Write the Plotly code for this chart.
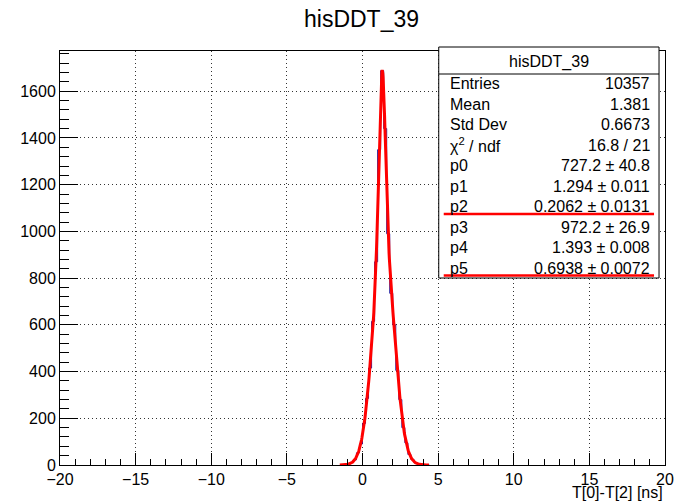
import numpy as np
import plotly.graph_objects as go

# ---------------- data ----------------
title = "hisDDT_39"
x_title = "T[0]-T[2] [ns]"
bin_lo, bin_hi, bin_width = -20.0, 20.0, 0.2
bin_centers = [-1.3, -1.1, -0.9, -0.7, -0.5, -0.3, -0.1, 0.1, 0.3, 0.5,
               0.7, 0.9, 1.1, 1.3, 1.5, 1.7, 1.9, 2.1, 2.3, 2.5,
               2.7, 2.9, 3.1, 3.3, 3.5, 3.7, 3.9, 4.1, 4.3]
bin_counts = [1, 2, 5, 11, 22, 52, 90, 178, 285, 415,
              615, 870, 1350, 1688, 1440, 990, 735, 600, 405, 280,
              160, 95, 45, 24, 10, 5, 3, 2, 1]
# double-gaussian fit parameters p0..p5
fit_params = [727.2, 1.294, 0.2062, 972.2, 1.393, 0.6938]
fit_range = [-1.5, 4.4]
stats_title = "hisDDT_39"
stats_labels = ["Entries", "Mean", "Std Dev", "χ<sup>2</sup> / ndf",
                "p0", "p1", "p2", "p3", "p4", "p5"]
stats_values = ["10357", "1.381", "0.6673", "16.8 / 21",
                "727.2 ± 40.8", "1.294 ± 0.011", "0.2062 ± 0.0131",
                "972.2 ± 26.9", "1.393 ± 0.008", "0.6938 ± 0.0072"]
underlined_rows = ["p2", "p5"]
x_ticks = [-20, -15, -10, -5, 0, 5, 10, 15, 20]
y_ticks = [0, 200, 400, 600, 800, 1000, 1200, 1400, 1600]

# ---------------- layout geometry (pixels) ----------------
W, H = 686, 502
FL, FR, FT, FB = 60, 667, 51, 465   # frame edges
FONT = "Liberation Sans, Arial, Helvetica, sans-serif"

def px(x):
    return (x - FL) / (FR - FL)

def py(y):
    return (FB - y) / (FB - FT)

# histogram steps (only over the populated region so the zero baseline stays black)
c_lo = min(bin_centers) - bin_width / 2
c_hi = max(bin_centers) + bin_width / 2
nb = int(round((c_hi - c_lo) / bin_width))
edges = c_lo + bin_width * np.arange(nb + 1)
counts = np.zeros(nb)
for c, v in zip(bin_centers, bin_counts):
    counts[int(np.floor((c - c_lo) / bin_width + 1e-6))] = v
hx = np.concatenate([[edges[0]], np.repeat(edges, 2)[1:-1], [edges[-1]]])
hy = np.concatenate([[0], np.repeat(counts, 2), [0]])

# fit curve
p0, p1, p2, p3, p4, p5 = fit_params
fx = np.linspace(fit_range[0], fit_range[1], 300)
fy = p0 * np.exp(-0.5 * ((fx - p1) / p2) ** 2) + p3 * np.exp(-0.5 * ((fx - p4) / p5) ** 2)

ymax = 1.05 * max(bin_counts)

fig = go.Figure()
fig.add_trace(go.Scatter(x=hx, y=hy, mode="lines",
                         line=dict(color="#1a1aa0", width=1), hoverinfo="skip"))
fig.add_trace(go.Scatter(x=fx, y=fy, mode="lines",
                         line=dict(color="#ff0000", width=3), hoverinfo="skip"))

fig.update_layout(
    width=W, height=H,
    margin=dict(l=FL, r=W - FR, t=FT, b=H - FB),
    paper_bgcolor="white", plot_bgcolor="white",
    showlegend=False,
    font=dict(family=FONT, size=16, color="black"),
)
fig.update_xaxes(
    range=[bin_lo, bin_hi], tickvals=x_ticks,
    showline=True, linecolor="black", linewidth=1, mirror=True,
    ticks="inside", ticklen=12, tickcolor="black", tickwidth=1,
    minor=dict(ticks="inside", dtick=1, ticklen=6, tickcolor="black", showgrid=False),
    showgrid=True, gridcolor="#333", griddash="1px,3px", gridwidth=1,
    zeroline=False, tickfont=dict(size=16, family=FONT),
)
fig.update_yaxes(
    range=[0, ymax], tickvals=y_ticks,
    showline=True, linecolor="black", linewidth=1, mirror=True,
    ticks="inside", ticklen=18, tickcolor="black", tickwidth=1,
    minor=dict(ticks="inside", dtick=40, ticklen=9, tickcolor="black", showgrid=False),
    showgrid=True, gridcolor="#333", griddash="1px,3px", gridwidth=1,
    zeroline=False, tickfont=dict(size=16, family=FONT),
)

shapes = []
annotations = []
# title
annotations.append(dict(x=px(362), y=py(19), xref="paper", yref="paper",
                        text=title, showarrow=False, xanchor="center", yanchor="middle",
                        font=dict(size=23, family=FONT)))
# x-axis title
annotations.append(dict(x=px(667), y=py(492), xref="paper", yref="paper",
                        text=x_title, showarrow=False, xanchor="right", yanchor="middle",
                        font=dict(size=16, family=FONT)))

# stats box
BL, BR, BT, BB = 440, 661, 47, 278
shapes.append(dict(type="rect", xref="paper", yref="paper",
                   x0=px(BL), x1=px(BR), y0=py(BB), y1=py(BT),
                   fillcolor="white", line=dict(color="black", width=1), layer="above"))
shapes.append(dict(type="line", xref="paper", yref="paper",
                   x0=px(BL), x1=px(BR), y0=py(74), y1=py(74),
                   line=dict(color="black", width=1), layer="above"))
annotations.append(dict(x=px((BL + BR) / 2), y=py(61.5), xref="paper", yref="paper",
                        text=stats_title, showarrow=False, xanchor="center", yanchor="middle",
                        font=dict(size=16, family=FONT)))
row0, drow = 83.5, 20.5
for i, (lab, val) in enumerate(zip(stats_labels, stats_values)):
    yy = row0 + i * drow
    annotations.append(dict(x=px(449), y=py(yy), xref="paper", yref="paper",
                            text=lab, showarrow=False, xanchor="left", yanchor="middle",
                            font=dict(size=16, family=FONT)))
    annotations.append(dict(x=px(654), y=py(yy), xref="paper", yref="paper",
                            text=val, showarrow=False, xanchor="right", yanchor="middle",
                            font=dict(size=16, family=FONT)))
    if lab in underlined_rows:
        shapes.append(dict(type="line", xref="paper", yref="paper",
                           x0=px(445), x1=px(656), y0=py(yy + 7.5), y1=py(yy + 7.5),
                           line=dict(color="#ff0000", width=2.5), layer="above"))

fig.update_layout(shapes=shapes, annotations=annotations)
fig.write_html("out.html")
